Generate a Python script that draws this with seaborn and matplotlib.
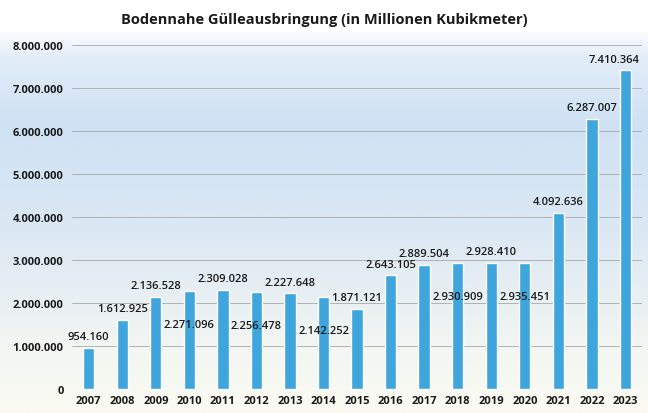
import matplotlib
matplotlib.use("Agg")
import matplotlib.pyplot as plt
from matplotlib.colors import LinearSegmentedColormap
import numpy as np
import pandas as pd
import seaborn as sns

##-------------------------------------------
## data
years = ['2007', '2008', '2009', '2010', '2011', '2012', '2013', '2014', '2015',
         '2016', '2017', '2018', '2019', '2020', '2021', '2022', '2023']
values = [954160, 1612925, 2136528, 2271096, 2309028, 2256478, 2227648, 2142252,
          1871121, 2643105, 2889504, 2930909, 2928410, 2935451, 4092636, 6287007, 7410364]
# labels drawn inside the bar (below its top) instead of above it
inside = ['2010', '2012', '2014', '2018', '2020']
yticks = [0, 1000000, 2000000, 3000000, 4000000, 5000000, 6000000, 7000000, 8000000]
title = 'Bodennahe Gülleausbringung (in Millionen Kubikmeter)'

data = pd.DataFrame({'year': years, 'value': values})

def de_num(v):
    return f'{v:,.0f}'.replace(',', '.')

##-------------------------------------------
sns.set_style('white')
plt.rcParams['font.family'] = ['Open Sans', 'DejaVu Sans']

fig = plt.figure(figsize=(6.48, 4.14), dpi=100)

# background gradient: white top, light blue band, fading to cream at bottom
bg = fig.add_axes([0, 0, 1, 1], zorder=0)
grad_cmap = LinearSegmentedColormap.from_list(
    'bg', [(0.0, '#fbfbf2'), (0.15, '#f3f6f2'), (0.42, '#dde9f4'),
           (0.70, '#cfe2f4'), (0.86, '#e2edf8'), (0.93, '#ffffff'), (1.0, '#ffffff')])
bg.imshow(np.linspace(0, 1, 256).reshape(-1, 1), aspect='auto', cmap=grad_cmap,
          origin='lower', extent=[0, 1, 0, 1])
bg.axis('off')

ax = fig.add_axes([0.111, 0.058, 0.880, 0.831], zorder=1)
ax.patch.set_alpha(0)

sns.barplot(data=data, x='year', y='value', color='#3ea6dc', saturation=1,
            width=0.34, ax=ax, zorder=3)

ax.set_ylim(0, 8000000)
ax.set_yticks(yticks)
ax.set_yticklabels([de_num(t) for t in yticks], fontsize=8, fontweight='bold', color='#1a1a1a')
ax.set_xticks(range(len(years)))
ax.set_xticklabels(years, fontsize=8, fontweight='bold', color='#1a1a1a')
ax.tick_params(axis='both', length=0, pad=4)
ax.tick_params(axis='y', pad=6)
ax.set_xlabel('')
ax.set_ylabel('')
ax.grid(axis='y', color='#a8a8a8', linewidth=0.6, zorder=1)
ax.set_axisbelow(True)
for s in ax.spines.values():
    s.set_visible(False)

for i, (yr, v) in enumerate(zip(years, values)):
    off = -24 if yr in inside else 8
    # last label is nudged left so it stays inside the picture
    dx = -8 if i == len(years) - 1 else 0
    ax.annotate(de_num(v), xy=(i, v), xytext=(dx, off), textcoords='offset points',
                ha='center', va='center', fontsize=8, fontweight='semibold',
                color='#1a1a1a', zorder=4)

fig.text(0.5, 0.952, title, ha='center', va='center', fontsize=10.5,
         fontweight='bold', color='#1a1a1a')

plt.savefig('out.png', dpi=100)
